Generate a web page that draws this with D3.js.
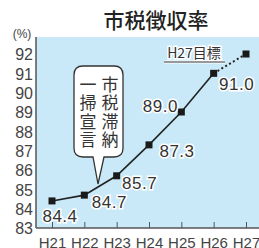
<!DOCTYPE html>
<html>
<head>
<meta charset="utf-8">
<script src="https://cdn.jsdelivr.net/npm/d3@7"></script>
<style>
  body { margin: 0; background: #fff; }
  svg { display: block; }
  text { font-family: "Noto Sans CJK JP", "Liberation Sans", sans-serif; }
</style>
</head>
<body>
<div id="chart"></div>
<script>
// data
var years = ["H21", "H22", "H23", "H24", "H25", "H26", "H27"];
var rates = [84.4, 84.7, 85.7, 87.3, 89.0, 91.0, 92.0];
var yTicks = [83, 84, 85, 86, 87, 88, 89, 90, 91, 92];
var labelText = ["84.4", "84.7", "85.7", "87.3", "89.0", "91.0"];
// label offsets from the point
var labelDx = [8, 25, 23, 28, -21, 23];
var labelDy = [15, 7, 7, 6, -6, 11];

var width = 259, height = 248;
var margin = {left: 36, right: 0, top: 37, bottom: 20};

var svg = d3.select("#chart").append("svg")
    .attr("width", width)
    .attr("height", height);

// plot background
svg.append("rect")
    .attr("x", margin.left)
    .attr("y", margin.top)
    .attr("width", width - margin.left)
    .attr("height", height - margin.bottom - margin.top)
    .attr("fill", "#c9e9f8");

var x = d3.scalePoint()
    .domain(years)
    .range([52, 246]);

var y = d3.scaleLinear()
    .domain([83, 92])
    .range([228, 54]);

// title
svg.append("text")
    .attr("x", 156)
    .attr("y", 28)
    .attr("text-anchor", "middle")
    .attr("font-size", "21px")
    .attr("font-weight", "500")
    .attr("fill", "#222")
    .text("市税徴収率");

svg.append("text")
    .attr("x", 22)
    .attr("y", 38)
    .attr("text-anchor", "middle")
    .attr("font-size", "12px")
    .attr("fill", "#444")
    .style("font-family", "Liberation Sans, sans-serif")
    .text("(%)");

// y axis
var yAxisCall = d3.axisLeft(y)
    .tickValues(yTicks)
    .tickSize(0)
    .tickPadding(3);
var yAxis = svg.append("g")
    .attr("transform", "translate(" + margin.left + ",0)")
    .call(yAxisCall);
yAxis.select(".domain").attr("stroke", "#555").attr("stroke-width", 1.5)
    .attr("d", "M0,37V228");
yAxis.selectAll("text")
    .attr("font-size", "16px")
    .attr("fill", "#444")
    .style("font-family", "Liberation Sans Narrow, Liberation Sans, sans-serif")
    .attr("dy", "0.36em");

// x axis
var xAxisCall = d3.axisBottom(x)
    .tickSize(-6)
    .tickPadding(9);
var xAxis = svg.append("g")
    .attr("transform", "translate(0,228)")
    .call(xAxisCall);
xAxis.select(".domain").attr("stroke", "#555").attr("stroke-width", 1.5)
    .attr("d", "M36,0H259");
xAxis.selectAll(".tick line").attr("stroke", "#555");
xAxis.selectAll("text")
    .attr("font-size", "15px")
    .attr("fill", "#444")
    .style("font-family", "Liberation Sans Narrow, Liberation Sans, sans-serif");

// solid line (actual)
var line = d3.line()
    .x(function(d, i){ return x(years[i]); })
    .y(function(d){ return y(d); });

svg.append("path")
    .datum(rates.slice(0, 6))
    .attr("d", line)
    .attr("fill", "none")
    .attr("stroke", "#222")
    .attr("stroke-width", 1.6);

// dotted line (target)
svg.append("path")
    .attr("d", "M" + x(years[5]) + "," + y(rates[5]) + "L" + x(years[6]) + "," + y(rates[6]))
    .attr("fill", "none")
    .attr("stroke", "#222")
    .attr("stroke-width", 2)
    .attr("stroke-dasharray", "2,2.5");

// markers
svg.selectAll("rect.pt")
    .data(rates)
    .enter().append("rect")
    .attr("class", "pt")
    .attr("x", function(d, i){ return x(years[i]) - 3.5; })
    .attr("y", function(d){ return y(d) - 3.5; })
    .attr("width", 7)
    .attr("height", 7)
    .attr("fill", "#1a1a1a");

// value labels with white halo
svg.selectAll("text.val")
    .data(labelText)
    .enter().append("text")
    .attr("class", "val")
    .attr("x", function(d, i){ return x(years[i]) + labelDx[i]; })
    .attr("y", function(d, i){ return y(rates[i]) + labelDy[i]; })
    .attr("dy", "0.36em")
    .attr("text-anchor", "middle")
    .attr("font-size", "17px")
    .attr("fill", "#333")
    .attr("stroke", "#fff")
    .attr("stroke-width", 3)
    .attr("paint-order", "stroke")
    .attr("letter-spacing", "0.5px")
    .style("font-family", "Liberation Sans Narrow, Liberation Sans, sans-serif")
    .text(function(d){ return d; });

// target label
svg.append("text")
    .attr("x", 194)
    .attr("y", 58)
    .attr("text-anchor", "middle")
    .attr("font-size", "14px")
    .attr("fill", "#333")
    .attr("stroke", "#fff")
    .attr("stroke-width", 3)
    .attr("paint-order", "stroke")
    .text("H27目標");
svg.append("line")
    .attr("x1", 164).attr("x2", 225)
    .attr("y1", 62).attr("y2", 62)
    .attr("stroke", "#fff").attr("stroke-width", 3);
svg.append("line")
    .attr("x1", 164).attr("x2", 225)
    .attr("y1", 62).attr("y2", 62)
    .attr("stroke", "#333").attr("stroke-width", 1);

// callout bubble
var bx0 = 74, bx1 = 123, by0 = 66, by1 = 157, r = 9;
var tipX = 98, tipY = 184;
var bubble = "M" + (bx0 + r) + "," + by0 +
    "H" + (bx1 - r) + "Q" + bx1 + "," + by0 + " " + bx1 + "," + (by0 + r) +
    "V" + (by1 - r) + "Q" + bx1 + "," + by1 + " " + (bx1 - r) + "," + by1 +
    "H104L" + tipX + "," + tipY + "L93," + by1 +
    "H" + (bx0 + r) + "Q" + bx0 + "," + by1 + " " + bx0 + "," + (by1 - r) +
    "V" + (by0 + r) + "Q" + bx0 + "," + by0 + " " + (bx0 + r) + "," + by0 + "Z";
svg.append("path")
    .attr("d", bubble)
    .attr("fill", "#fff")
    .attr("stroke", "#333")
    .attr("stroke-width", 1.3);

// vertical text, right column first
var cols = [{x: 110, chars: "市税滞納"}, {x: 88, chars: "一掃宣言"}];
cols.forEach(function(c){
    svg.append("text")
        .attr("x", c.x)
        .attr("y", 76)
        .attr("writing-mode", "vertical-rl")
        .attr("font-size", "17px")
        .attr("letter-spacing", "1.5px")
        .attr("fill", "#333")
        .text(c.chars);
});
</script>
</body>
</html>
